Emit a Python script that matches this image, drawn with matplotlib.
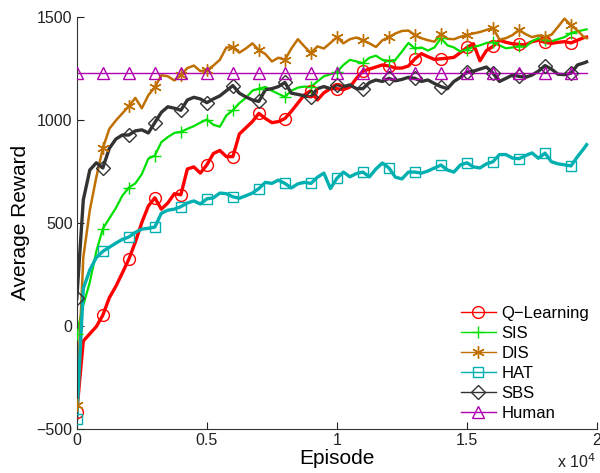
import numpy as np
import matplotlib
matplotlib.use("Agg")
import matplotlib.pyplot as plt
from matplotlib.lines import Line2D

plt.rcParams['font.family'] = ['Liberation Sans', 'DejaVu Sans']

# Episodes: every 250 from 0 to 19500, then final 19600
episodes = np.concatenate([np.arange(0, 19501, 250), [19600]])

q_learning = [
    -418, -75, -40, -5, 50, 135, 190, 255, 322, 405,
    500, 580, 620, 565, 595, 640, 635, 760, 770, 740,
    780, 835, 850, 820, 820, 930, 960, 990, 1030, 1005,
    985, 990, 1005, 1040, 1080, 1120, 1140, 1095, 1130, 1150,
    1150, 1145, 1158, 1200, 1235, 1245, 1255, 1265, 1260, 1250,
    1250, 1260, 1295, 1320, 1305, 1292, 1295, 1298, 1302, 1325,
    1350, 1368, 1285, 1335, 1355, 1385, 1375, 1368, 1365, 1362,
    1378, 1385, 1375, 1370, 1375, 1378, 1372, 1385, 1398, 1400,
]
sis = [
    -40, 100, 210, 360, 470, 520, 570, 630, 670, 690,
    735, 810, 825, 890, 915, 935, 940, 955, 968, 985,
    1000, 975, 965, 1020, 1045, 1080, 1105, 1140, 1150, 1158,
    1140, 1125, 1110, 1140, 1155, 1160, 1158, 1185, 1210, 1220,
    1230, 1265, 1290, 1282, 1274, 1300, 1310, 1290, 1285, 1290,
    1330, 1372, 1345, 1350, 1335, 1350, 1395, 1360, 1350, 1330,
    1340, 1353, 1360, 1372, 1375, 1360, 1346, 1350, 1355, 1353,
    1380, 1395, 1385, 1380, 1390, 1400, 1420, 1428, 1435, 1438,
]
dis = [
    -386, 330, 560, 720, 860, 955, 995, 1030, 1065, 1105,
    1055, 1118, 1157, 1215, 1210, 1190, 1216, 1250, 1262, 1235,
    1240, 1262, 1290, 1350, 1350, 1325, 1345, 1370, 1337, 1318,
    1282, 1300, 1290, 1345, 1390, 1355, 1322, 1355, 1345, 1372,
    1400, 1370, 1390, 1398, 1385, 1370, 1352, 1385, 1400, 1418,
    1430, 1432, 1410, 1395, 1385, 1378, 1415, 1392, 1390, 1402,
    1410, 1418, 1425, 1435, 1445, 1388, 1395, 1410, 1435, 1415,
    1400, 1408, 1400, 1412, 1450, 1490, 1458, 1432, 1400, 1395,
]
hat = [
    -454, 180, 270, 330, 360, 380, 400, 418, 430, 452,
    468, 472, 478, 545, 560, 565, 577, 595, 605, 590,
    615, 620, 643, 640, 625, 618, 630, 643, 665, 695,
    690, 706, 690, 668, 688, 695, 690, 720, 740, 665,
    715, 745, 722, 738, 745, 722, 760, 789, 765, 720,
    712, 745, 745, 740, 750, 765, 779, 755, 745, 780,
    790, 770, 765, 785, 795, 830, 830, 813, 810, 825,
    838, 812, 837, 795, 785, 780, 775, 820, 860, 878,
]
sbs = [
    132, 610, 755, 790, 765, 860, 905, 925, 925, 945,
    950, 935, 985, 1035, 1062, 1055, 1045, 1095, 1108, 1100,
    1082, 1100, 1115, 1140, 1165, 1128, 1110, 1095, 1088, 1145,
    1150, 1160, 1180, 1128, 1122, 1115, 1110, 1150, 1160, 1150,
    1170, 1160, 1168, 1150, 1150, 1180, 1192, 1185, 1200, 1188,
    1195, 1205, 1200, 1185, 1192, 1175, 1160, 1150, 1185, 1205,
    1230, 1235, 1245, 1255, 1225, 1185, 1200, 1216, 1210, 1205,
    1216, 1235, 1262, 1245, 1220, 1218, 1225, 1265, 1275, 1280,
]
human_level = 1225

labels = ['Q\u2212Learning', 'SIS', 'DIS', 'HAT', 'SBS', 'Human']
xtick_vals = [0, 5000, 10000, 15000, 20000]
xtick_labels = ['0', '0.5', '1', '1.5', '2']
ytick_vals = [-500, 0, 500, 1000, 1500]

human = np.full(len(episodes), human_level)

asterisk = (6, 2, 0)
styles = [
    (q_learning, '#FF0000', 'o', 2.4, 8.5),
    (sis, '#00E000', '+', 1.6, 9),
    (dis, '#C07000', asterisk, 1.8, 9),
    (hat, '#00B0B0', 's', 2.4, 7.5),
    (sbs, '#333333', 'D', 2.4, 7),
    (human, '#B000B0', '^', 1.0, 9),
]

fig = plt.figure(figsize=(6.0, 4.73), dpi=100)
ax = fig.add_axes([0.128, 0.094, 0.867, 0.871])

handles = []
for (vals, col, mk, lw, ms), lab in zip(styles, labels):
    ax.plot(episodes, vals, color=col, lw=lw, zorder=2)
    ax.plot(episodes, vals, linestyle='none', marker=mk, markevery=4,
            markersize=ms, markerfacecolor='none',
            markeredgecolor=col, markeredgewidth=1.0, zorder=3)
    handles.append(Line2D([0], [0], color=col, lw=1.0, marker=mk,
                          markersize=ms, markerfacecolor='none',
                          markeredgecolor=col, markeredgewidth=1.0))

ax.set_xlim(0, 20000)
ax.set_ylim(-500, 1500)
ax.set_xticks(xtick_vals)
ax.set_xticklabels(xtick_labels)
ax.set_yticks(ytick_vals)
for s in ['top', 'right']:
    ax.spines[s].set_visible(False)
for s in ['left', 'bottom']:
    ax.spines[s].set_color('#333333')
    ax.spines[s].set_linewidth(0.8)
ax.tick_params(direction='in', length=5, width=0.8, labelsize=11.5,
               colors='#222222', pad=3)

ax.set_xlabel('Episode', fontsize=15, labelpad=1)
ax.set_ylabel('Average Reward', fontsize=15, labelpad=5)
fig.text(0.993, 0.004, 'x 10$^4$', ha='right', va='bottom', fontsize=11.5,
         color='#222222')

leg = ax.legend(handles, labels, loc='lower right', frameon=False,
                fontsize=12, handlelength=2.1, handletextpad=0.35,
                labelspacing=0.3, borderaxespad=0.05,
                bbox_to_anchor=(1.0, 0.0))

fig.savefig('out.png', dpi=100)
